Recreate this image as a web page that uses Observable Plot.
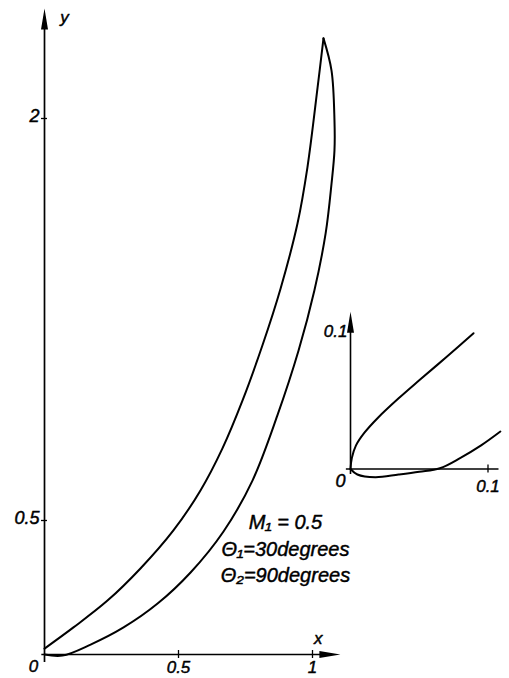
<!DOCTYPE html>
<html><head><meta charset="utf-8">
<script src="https://cdn.jsdelivr.net/npm/d3@7"></script>
<script src="https://cdn.jsdelivr.net/npm/@observablehq/plot@0.6"></script>
<style>
html,body{margin:0;padding:0;background:#fff;}
#wrap{position:relative;width:509px;height:678px;overflow:hidden;}
#wrap svg{position:absolute;left:0;top:0;}
</style></head><body><div id="wrap"></div>
<script>
// ---- main figure data (x, y) ----
const upperX = [0, 0.108, 0.235, 0.358, 0.481, 0.582, 0.664, 0.739, 0.813, 0.881, 0.944, 0.981, 1.019, 1.041];
const upperY = [0.022, 0.101, 0.201, 0.321, 0.463, 0.612, 0.769, 0.948, 1.153, 1.366, 1.608, 1.817, 2.116, 2.299];
const lowerX = [0, 0.067, 0.172, 0.295, 0.422, 0.545, 0.668, 0.776, 0.869, 0.948, 1.007, 1.049, 1.071, 1.082, 1.082, 1.071, 1.041];
const lowerY = [0, -0.004, 0.037, 0.101, 0.190, 0.306, 0.459, 0.649, 0.892, 1.134, 1.358, 1.571, 1.757, 1.881, 1.993, 2.179, 2.299];

// ---- inset (magnified neighbourhood of the origin) ----
const insetUpperX = [0, 0.001, 0.004, 0.010, 0.020, 0.035, 0.050, 0.070, 0.0895];
const insetUpperY = [0, 0.008, 0.017, 0.026, 0.037, 0.051, 0.064, 0.081, 0.098];
const insetLowerX = [0, 0.005, 0.018, 0.035, 0.05, 0.065, 0.08, 0.095, 0.109];
const insetLowerY = [0, -0.004, -0.006, -0.004, -0.002, 0.0005, 0.008, 0.017, 0.027];

// ---- axes / ticks ----
const mainXTicks = [0.5, 1];
const mainXTickLabels = ["0.5", "1"];
const mainYTicks = [0.5, 2];
const mainYTickLabels = ["0.5", "2"];
const mainXEnd = 1.104, mainYEnd = 2.41;
const insetXTicks = [0.1];
const insetXTickLabels = ["0.1"];
const insetYTicks = [0.1];
const insetYTickLabels = ["0.1"];
const insetXEnd = 0.108, insetYEnd = 0.1135;

// ---- annotation ----
const noteText = ["M\u2081 = 0.5", "\u0398\u2081=30degrees", "\u0398\u2082=90degrees"];
const noteX = [0.899, 0.899, 0.899];
const noteY = [0.4925, 0.392, 0.295];

const font = "'Liberation Sans', 'DejaVu Sans', sans-serif";
const arrowHead = { draw(ctx) { ctx.moveTo(0, 0); ctx.lineTo(-3.5, 21); ctx.lineTo(3.5, 21); ctx.closePath(); } };

const pts = (xs, ys) => xs.map((x, i) => ({x, y: ys[i]}));
const txt = {fontFamily: font, fontStyle: "italic", fill: "black", stroke: "black", strokeWidth: 0.45};
const wrap = document.getElementById("wrap");

try {
const main = Plot.plot({
  width: 509, height: 678, margin: 0,
  x: {domain: [-0.1642, 1.7351], axis: null},
  y: {domain: [-0.0896, 2.4403], axis: null},
  style: {background: "transparent", overflow: "visible"},
  marks: [
    Plot.ruleY([0], {x1: -0.01, x2: mainXEnd - 0.06, stroke: "black", strokeWidth: 1.7}),
    Plot.ruleX([0], {y1: -0.03, y2: mainYEnd - 0.06, stroke: "black", strokeWidth: 1.7}),
    Plot.dot([{x: mainXEnd, y: 0}], {x: "x", y: "y", symbol: arrowHead, rotate: 90, fill: "black", stroke: "none"}),
    Plot.dot([{x: 0, y: mainYEnd}], {x: "x", y: "y", symbol: arrowHead, fill: "black", stroke: "none"}),
    Plot.ruleX(mainXTicks, {x: d => d, y1: 0, y2: 0, insetTop: -4, insetBottom: -4, stroke: "black", strokeWidth: 1.3}),
    Plot.ruleY(mainYTicks, {y: d => d, x1: 0, x2: 0, insetLeft: -3, insetRight: -3, stroke: "black", strokeWidth: 1.3}),
    Plot.text(mainXTicks, {x: d => d, y: 0, text: (d, i) => mainXTickLabels[i], dy: 13, fontSize: 17, ...txt}),
    Plot.text(mainYTicks, {x: 0, y: d => d, text: (d, i) => mainYTickLabels[i], dx: -5, dy: -2, textAnchor: "end", fontSize: 18, ...txt}),
    Plot.text(["0"], {x: 0, y: 0, text: d => d, dx: -11, dy: 12, fontSize: 17, ...txt}),
    Plot.text(["x"], {x: mainXEnd, y: 0, text: d => d, dx: -22, dy: -16, fontSize: 17, ...txt}),
    Plot.text(["y"], {x: 0, y: mainYEnd, text: d => d, dx: 20, dy: 9, fontSize: 17, ...txt}),
    Plot.line(pts(upperX, upperY), {x: "x", y: "y", curve: "catmull-rom", stroke: "black", strokeWidth: 2}),
    Plot.line(pts(lowerX, lowerY), {x: "x", y: "y", curve: "catmull-rom", stroke: "black", strokeWidth: 2}),
    Plot.text(noteText, {x: (d, i) => noteX[i], y: (d, i) => noteY[i], text: d => d, fontSize: 20, ...txt})
  ]
});
wrap.appendChild(main);

const inset = Plot.plot({
  width: 509, height: 678, margin: 0,
  x: {domain: [-0.25455, 0.11564], axis: null},
  y: {domain: [-0.15127, 0.33818], axis: null},
  style: {background: "transparent", overflow: "visible"},
  marks: [
    Plot.ruleY([0], {x1: -0.003, x2: insetXEnd, stroke: "black", strokeWidth: 1.5}),
    Plot.ruleX([0], {y1: -0.004, y2: insetYEnd - 0.012, stroke: "black", strokeWidth: 1.6}),
    Plot.dot([{x: 0, y: insetYEnd}], {x: "x", y: "y", symbol: arrowHead, fill: "black", stroke: "none"}),
    Plot.ruleX(insetXTicks, {x: d => d, y1: 0, y2: 0, insetTop: -4, insetBottom: -4, stroke: "black", strokeWidth: 1.3}),
    Plot.text(insetXTicks, {x: d => d, y: 0, text: (d, i) => insetXTickLabels[i], dy: 18, fontSize: 17, ...txt}),
    Plot.text(insetYTicks, {x: 0, y: d => d, text: (d, i) => insetYTickLabels[i], dx: -3, dy: 1, textAnchor: "end", fontSize: 17, ...txt}),
    Plot.text(["0"], {x: 0, y: 0, text: d => d, dx: -10, dy: 12, fontSize: 18, ...txt}),
    Plot.line(pts(insetUpperX, insetUpperY), {x: "x", y: "y", curve: "catmull-rom", stroke: "black", strokeWidth: 2}),
    Plot.line(pts(insetLowerX, insetLowerY), {x: "x", y: "y", curve: "catmull-rom", stroke: "black", strokeWidth: 2})
  ]
});
wrap.appendChild(inset);
} catch (e) {
  const p = document.createElement("pre");
  p.textContent = String(e && e.stack || e);
  document.body.appendChild(p);
}
</script>
</body></html>
